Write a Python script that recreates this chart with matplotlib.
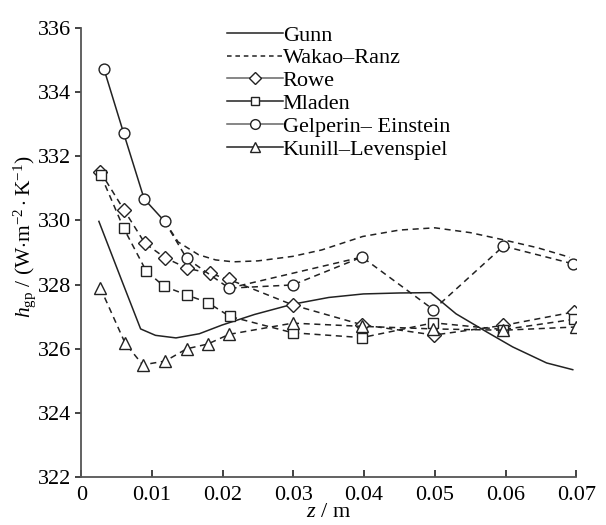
import matplotlib
matplotlib.use("Agg")
import matplotlib.pyplot as plt
from matplotlib.lines import Line2D

plt.rcParams['font.family'] = ['Liberation Serif', 'DejaVu Serif']
plt.rcParams['mathtext.fontset'] = 'custom'
plt.rcParams['mathtext.rm'] = 'Liberation Serif'
plt.rcParams['mathtext.it'] = 'Liberation Serif:italic'
plt.rcParams['mathtext.bf'] = 'Liberation Serif:bold'

# ---- data ----
gunn_z = [0.0025, 0.0058, 0.0084, 0.0105, 0.0134, 0.0167, 0.0199, 0.0245, 0.0299,
          0.0350, 0.0399, 0.0450, 0.0494, 0.0530, 0.0573, 0.0610, 0.0658, 0.0695]
gunn_h = [329.97, 328.09, 326.62, 326.42, 326.34, 326.47, 326.74, 327.07, 327.39,
          327.60, 327.71, 327.74, 327.75, 327.09, 326.53, 326.06, 325.56, 325.35]

wakao_z = [0.0118, 0.0137, 0.0166, 0.0190, 0.0215, 0.0250, 0.0299, 0.0340, 0.0398,
           0.0450, 0.0500, 0.0550, 0.0596, 0.0645, 0.0691]
wakao_h = [329.97, 329.33, 328.93, 328.77, 328.71, 328.74, 328.88, 329.08, 329.50,
           329.70, 329.77, 329.62, 329.40, 329.15, 328.85]

rowe_z = [0.0027, 0.0061, 0.0090, 0.0119, 0.0150, 0.0182, 0.0209, 0.0300, 0.0397,
          0.0499, 0.0597, 0.0697]
rowe_h = [331.52, 330.31, 329.29, 328.83, 328.51, 328.35, 328.16, 327.36, 326.75,
          326.43, 326.73, 327.15]

mladen_z = [0.0028, 0.0060, 0.0092, 0.0117, 0.0149, 0.0179, 0.0210, 0.0299, 0.0397,
            0.0498, 0.0597, 0.0697]
mladen_h = [331.40, 329.76, 328.42, 327.95, 327.68, 327.44, 327.01, 326.50, 326.35,
            326.81, 326.60, 326.92]

gelperin_z = [0.0032, 0.0060, 0.0089, 0.0118, 0.0149, 0.0209, 0.0299, 0.0397, 0.0498,
              0.0597, 0.0695]
gelperin_h = [334.73, 332.72, 330.67, 329.97, 328.82, 327.89, 327.99, 328.86, 327.22,
              329.20, 328.65]

kunii_z = [0.0027, 0.0062, 0.0087, 0.0119, 0.0149, 0.0179, 0.0209, 0.0299, 0.0397,
           0.0498, 0.0597, 0.0699]
kunii_h = [327.90, 326.18, 325.50, 325.62, 326.00, 326.15, 326.45, 326.80, 326.70,
           326.62, 326.58, 326.68]

labels = ["Gunn", "Wakao\u2013Ranz", "Rowe", "Mladen", "Gelperin\u2013 Einstein",
          "Kunill\u2013Levenspiel"]
xticks = [0, 0.01, 0.02, 0.03, 0.04, 0.05, 0.06, 0.07]
xticklabels = ["0", "0.01", "0.02", "0.03", "0.04", "0.05", "0.06", "0.07"]
yticks = [322, 324, 326, 328, 330, 332, 334, 336]

# ---- figure ----
fig = plt.figure(figsize=(6.06, 5.25), dpi=100)
ax = fig.add_axes([0.134, 0.091, 0.817, 0.856])

lc = '#222222'
lw = 1.1
dash = (4, 3)
mk = dict(mfc='white', mec=lc, mew=1.0)

ax.plot(gunn_z, gunn_h, '-', color=lc, lw=lw)
ax.plot(wakao_z, wakao_h, '--', color=lc, lw=lw, dashes=dash)
ax.plot(rowe_z, rowe_h, '--', color=lc, lw=lw, dashes=dash, marker='D', ms=7, **mk)
ax.plot(mladen_z, mladen_h, '--', color=lc, lw=lw, dashes=dash, marker='s', ms=7.2, **mk)
# Gelperin: solid for first segment, dashed afterwards
ax.plot(gelperin_z[:4], gelperin_h[:4], '-', color=lc, lw=lw)
ax.plot(gelperin_z[3:], gelperin_h[3:], '--', color=lc, lw=lw, dashes=dash)
ax.plot([gelperin_z[5], gelperin_z[7]], [gelperin_h[5], gelperin_h[7]], '--',
        color=lc, lw=lw, dashes=dash)
ax.plot(gelperin_z, gelperin_h, 'o', ms=7.8, **mk)
ax.plot(kunii_z, kunii_h, '--', color=lc, lw=lw, dashes=dash, marker='^', ms=8.5, **mk)

ax.set_xlim(0, 0.07)
ax.set_ylim(322, 336)
ax.set_xticks(xticks)
ax.set_xticklabels(xticklabels)
ax.set_yticks(yticks)

for s in ['top', 'right']:
    ax.spines[s].set_visible(False)
for s in ['left', 'bottom']:
    ax.spines[s].set_color('#555555')
    ax.spines[s].set_linewidth(1.3)
ax.tick_params(axis='y', direction='out', length=4, width=1.2, color='#222222',
               labelsize=16, pad=3)
ax.tick_params(axis='x', direction='in', length=5, width=1.2, color='#222222',
               labelsize=16, pad=6)

ax.set_xlabel(r'$z$ / m', fontsize=16, labelpad=-1)
ax.set_ylabel(r'$h_{\mathrm{gp}}$ / (W$\cdot$m$^{-2}\cdot$K$^{-1}$)', fontsize=15.5)
ax.yaxis.set_label_coords(-0.088, 0.536)

gray = '#666666'
handles = [
    Line2D([], [], color=lc, lw=lw, ls='-'),
    Line2D([], [], color=lc, lw=lw, ls='--', dashes=(3, 2.5)),
    Line2D([], [], color=gray, lw=lw, ls='-', marker='D', ms=6, **mk),
    Line2D([], [], color=lc, lw=lw, ls='-', marker='s', ms=6.3, **mk),
    Line2D([], [], color=gray, lw=lw, ls='-', marker='o', ms=7, **mk),
    Line2D([], [], color=lc, lw=lw, ls='-', marker='^', ms=7.5, **mk),
]
ax.legend(handles, labels, loc='upper left', bbox_to_anchor=(0.295, 1.006),
          frameon=False, fontsize=16, handlelength=2.5, handletextpad=0.0,
          labelspacing=0.1, numpoints=1, borderaxespad=0, borderpad=0)

fig.savefig('out.png', dpi=100)
